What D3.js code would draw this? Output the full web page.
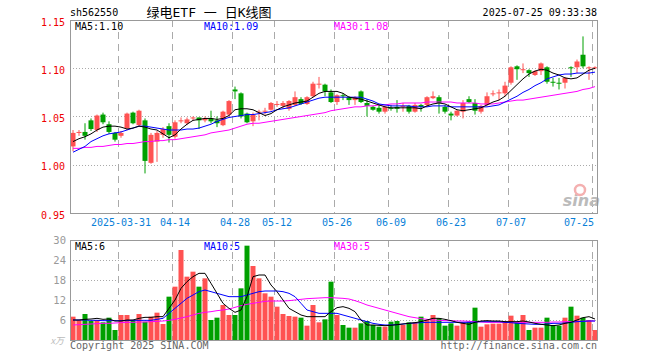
<!DOCTYPE html>
<html><head><meta charset="utf-8">
<script src="https://cdn.jsdelivr.net/npm/d3@7/dist/d3.min.js"></script>
<style>
body{margin:0;background:#fff}
svg{display:block}
text{font-family:"DejaVu Sans Mono",monospace;font-size:10px}
</style>
</head><body>
<svg width="660" height="360"></svg>
<script>
// trading days shown
const dates = ["03-19","03-20","03-21","03-24","03-25","03-26","03-27","03-28","03-31","04-01",
  "04-02","04-03","04-07","04-08","04-09","04-10","04-11","04-14","04-15","04-16",
  "04-17","04-18","04-21","04-22","04-23","04-24","04-25","04-28","04-29","04-30",
  "05-06","05-07","05-08","05-09","05-12","05-13","05-14","05-15","05-16","05-19",
  "05-20","05-21","05-22","05-23","05-26","05-27","05-28","05-29","05-30","06-03",
  "06-04","06-05","06-06","06-09","06-10","06-11","06-12","06-13","06-16","06-17",
  "06-18","06-19","06-20","06-23","06-24","06-25","06-26","06-27","06-30","07-01",
  "07-02","07-03","07-04","07-07","07-08","07-09","07-10","07-11","07-14","07-15",
  "07-16","07-17","07-18","07-21","07-22","07-23","07-24","07-25"];

const open = [1.019,1.033,1.034,1.046,1.036,1.052,1.042,1.033,1.030,1.038,
  1.054,1.041,1.046,1.002,1.024,1.031,1.040,1.029,1.045,1.043,
  1.048,1.049,1.046,1.048,1.046,1.041,1.052,1.078,1.074,1.053,
  1.045,1.054,1.055,1.057,1.063,1.061,1.058,1.062,1.068,1.063,
  1.071,1.084,1.083,1.075,1.065,1.072,1.070,1.067,1.076,1.064,
  1.060,1.059,1.055,1.059,1.060,1.060,1.061,1.055,1.062,1.062,
  1.069,1.070,1.060,1.053,1.051,1.055,1.068,1.064,1.055,1.062,
  1.073,1.074,1.074,1.085,1.102,1.098,1.098,1.093,1.097,1.101,
  1.086,1.085,1.085,1.101,1.101,1.114,1.100,1.100];
const close = [1.033,1.034,1.030,1.037,1.051,1.044,1.034,1.026,1.033,1.053,
  1.043,1.056,1.004,1.031,1.033,1.037,1.031,1.044,1.046,1.047,
  1.049,1.046,1.048,1.045,1.043,1.055,1.066,1.076,1.050,1.044,
  1.052,1.055,1.056,1.064,1.063,1.064,1.066,1.070,1.063,1.070,
  1.084,1.084,1.076,1.065,1.072,1.071,1.067,1.070,1.065,1.061,
  1.057,1.055,1.060,1.058,1.058,1.061,1.055,1.062,1.060,1.070,
  1.071,1.064,1.055,1.051,1.056,1.064,1.065,1.056,1.061,1.071,
  1.074,1.075,1.082,1.101,1.099,1.099,1.095,1.097,1.105,1.086,
  1.085,1.084,1.090,1.100,1.107,1.102,1.101,1.101];
const high = [1.036,1.036,1.043,1.048,1.052,1.054,1.045,1.034,1.035,1.054,
  1.055,1.057,1.048,1.033,1.035,1.039,1.043,1.046,1.049,1.049,
  1.050,1.049,1.050,1.056,1.050,1.056,1.067,1.081,1.075,1.054,
  1.054,1.057,1.059,1.065,1.066,1.066,1.067,1.076,1.070,1.071,
  1.086,1.091,1.084,1.078,1.073,1.074,1.071,1.071,1.077,1.068,
  1.061,1.062,1.061,1.062,1.067,1.064,1.062,1.064,1.063,1.071,
  1.076,1.072,1.062,1.055,1.057,1.067,1.071,1.068,1.062,1.075,
  1.077,1.078,1.086,1.102,1.103,1.105,1.099,1.098,1.106,1.102,
  1.090,1.090,1.091,1.102,1.109,1.133,1.102,1.102];
const low = [1.014,1.030,1.026,1.035,1.034,1.042,1.032,1.024,1.028,1.036,
  1.042,1.040,0.991,1.001,1.003,1.028,1.023,1.027,1.043,1.041,
  1.046,1.037,1.044,1.043,1.039,1.040,1.050,1.068,1.048,1.043,
  1.040,1.046,1.052,1.056,1.060,1.058,1.056,1.061,1.062,1.062,
  1.070,1.079,1.071,1.064,1.062,1.067,1.062,1.062,1.064,1.050,
  1.056,1.053,1.053,1.056,1.054,1.055,1.053,1.054,1.055,1.060,
  1.068,1.053,1.053,1.046,1.050,1.048,1.064,1.052,1.053,1.061,
  1.071,1.067,1.071,1.083,1.088,1.095,1.091,1.092,1.093,1.084,
  1.081,1.078,1.079,1.091,1.095,1.100,1.088,1.099];

const ma5 = [1.024,1.027,1.029,1.032,1.036,1.039,1.040,1.040,1.039,1.037,
  1.038,1.040,1.039,1.037,1.036,1.032,1.028,1.031,1.037,1.042,
  1.046,1.047,1.048,1.048,1.047,1.048,1.051,1.057,1.058,1.058,
  1.057,1.054,1.051,1.053,1.057,1.060,1.062,1.064,1.065,1.066,
  1.070,1.074,1.076,1.076,1.076,1.074,1.070,1.069,1.068,1.066,
  1.064,1.062,1.060,1.059,1.059,1.059,1.059,1.059,1.058,1.061,
  1.063,1.064,1.063,1.060,1.057,1.056,1.057,1.058,1.059,1.062,
  1.065,1.067,1.071,1.077,1.083,1.089,1.094,1.097,1.099,1.098,
  1.095,1.093,1.090,1.089,1.090,1.094,1.098,1.100];
const ma10 = [1.013,1.016,1.019,1.024,1.027,1.030,1.032,1.033,1.034,1.036,
  1.038,1.040,1.040,1.039,1.038,1.037,1.036,1.036,1.036,1.037,
  1.037,1.038,1.040,1.042,1.045,1.047,1.049,1.050,1.051,1.052,
  1.052,1.053,1.054,1.055,1.057,1.058,1.059,1.061,1.063,1.065,
  1.067,1.069,1.070,1.070,1.070,1.070,1.070,1.070,1.070,1.068,
  1.066,1.063,1.062,1.061,1.061,1.061,1.061,1.060,1.060,1.060,
  1.061,1.061,1.061,1.060,1.060,1.060,1.060,1.060,1.060,1.060,
  1.061,1.062,1.065,1.068,1.071,1.075,1.078,1.082,1.085,1.089,
  1.091,1.093,1.094,1.094,1.095,1.095,1.095,1.096];
const ma30 = [1.017,1.017,1.018,1.018,1.019,1.019,1.020,1.021,1.021,1.022,
  1.022,1.023,1.024,1.024,1.025,1.025,1.026,1.026,1.027,1.028,
  1.029,1.030,1.031,1.033,1.034,1.035,1.036,1.038,1.040,1.042,
  1.043,1.043,1.044,1.045,1.046,1.047,1.048,1.049,1.050,1.051,
  1.052,1.053,1.054,1.056,1.057,1.058,1.059,1.060,1.060,1.061,
  1.061,1.062,1.062,1.063,1.063,1.064,1.064,1.064,1.064,1.065,
  1.065,1.065,1.065,1.065,1.064,1.064,1.064,1.064,1.063,1.063,
  1.063,1.064,1.065,1.066,1.067,1.067,1.068,1.069,1.070,1.071,
  1.072,1.073,1.074,1.075,1.076,1.078,1.079,1.081];

// volume, unit: 10k shares
const volume = [7.0,6.0,7.8,5.7,6.0,5.3,6.7,3.0,7.5,7.5,
  6.0,7.8,5.5,7.0,8.2,4.8,13,16,27,19,
  20.5,16,18.5,6,6.7,10.5,7.5,7.5,15.5,28.3,
  22.2,18.5,14,13,10,7.8,7.2,7,6.7,4.3,
  10.5,5.3,6.2,17.5,7.5,4.5,3.7,3.7,5,5.7,
  4.5,4,4,5.5,5.7,4.5,5.3,5.3,7,6,
  7.5,6.5,4.3,5,4.3,5.3,5.5,9.7,4,4.7,
  4.9,4.9,5.7,7.3,5.3,7.5,3,3.7,3.7,6.7,
  4.5,4.3,6.7,10,7.3,6.7,6,3];
const vma5 = [6,6,6.2,6.3,6.5,6.2,6.3,5.7,5.7,6,
  6,6.5,6.8,6.8,7,7,9.5,12,15.5,17.5,
  19,20,20,17,14,11,9.5,8.3,9,13,
  19,19.5,19.5,16.5,14.5,12,9.5,8.5,7.5,7,
  7,7,7,8.5,9.7,10,9.5,8.5,6,4.5,
  4.5,4.4,4.3,4.4,4.6,4.8,5,5.2,5.5,6,
  6.5,6.5,6.2,5.8,5.3,5,4.7,5.3,5.7,5.8,
  5.7,5.7,5.5,5.5,5.5,5.7,5.4,5,4.7,4.5,
  4.3,4.5,5,5.3,6,6.7,7,6.3];
const vma10 = [6,6,6,5.9,5.9,5.8,5.8,5.8,5.8,5.8,
  5.9,5.9,5.9,5.9,6.2,6.5,8,9.5,11,12.5,
  13.5,14.5,15,14.5,14,13.5,13,13,13,13.5,
  14,14.5,14.7,14.7,14.7,14.5,14,13,11,9,
  8.5,8,8,8,8,7.5,7,6.5,6,5.5,
  5,4.7,4.5,4.5,4.6,4.8,5,5.1,5.2,5.3,
  5.3,5.3,5.3,5.3,5.3,5.3,5.3,5.4,5.5,5.5,
  5.5,5.5,5.3,5.2,5,4.9,4.8,4.7,4.7,4.8,
  5,5,5.1,5.3,5.5,5.6,5.7,5.7];
const vma30 = [4.5,4.6,4.7,4.8,4.9,5,5,5.1,5.2,5.3,
  5.3,5.4,5.4,5.5,5.6,5.7,5.9,6.2,6.6,7,
  7.5,8,8.3,8.5,8.8,9,9.3,9.8,10.3,10.7,
  11,11.3,11.6,11.7,11.7,11.7,11.8,12,12.2,12.4,
  12.5,12.6,12.7,12.7,12.6,12.5,12.3,11.8,11.2,10.5,
  10,9.5,9,8.5,8,7.5,7,6.7,6.4,6.2,
  6,5.9,5.8,5.8,5.7,5.7,5.6,5.5,5.4,5.3,
  5.3,5.3,5.3,5.3,5.3,5.3,5.3,5.3,5.3,5.3,
  5.4,5.4,5.5,5.5,5.6,5.6,5.7,5.7];

const tickDates = ["03-31","04-14","04-28","05-12","05-26","06-09","06-23","07-07","07-25"];
const tickLabels = ["2025-03-31","04-14","04-28","05-12","05-26","06-09","06-23","07-07","07-25"];
const priceTicks = [1.15, 1.10, 1.05, 1.00, 0.95];
const volTicks = [30, 24, 18, 12, 6];

const RED = "#ff5252", GREEN = "#00a000", GRID = "#aaa";

const svg = d3.select("svg");
const left = 70, right = 598;
const pTop = 20, pBot = 213, vTop = 240, vBot = 340;

const x = d3.scaleBand().domain(dates).range([left, right]).padding(0);
const y = d3.scaleLinear().domain([0.95, 1.15]).range([pBot, pTop]);
const yv = d3.scaleLinear().domain([0, 30]).range([vBot, vTop]);
const cx = d => x(d) + 3;

const data = dates.map((d, i) => ({
  date: d, o: open[i], h: high[i], l: low[i], c: close[i], v: volume[i],
  up: close[i] >= open[i]
}));

// header
svg.append("text").attr("x", 70).attr("y", 16).text("sh562550");
svg.append("text").attr("x", 209).attr("y", 17).attr("text-anchor", "middle")
  .style("font-family", "'DejaVu Sans Mono','Noto Sans CJK SC'").style("font-size", "13px")
  .text("绿电ETF 一 日K线图");
svg.append("text").attr("x", 597).attr("y", 16).attr("text-anchor", "end")
  .text("2025-07-25 09:33:38");

// panels
function panel(top, bot) {
  const g = svg.append("g");
  // dashed date lines
  g.selectAll("line.v").data(tickDates).enter().append("line")
    .attr("x1", d => Math.round(x(d)) + 0.5).attr("x2", d => Math.round(x(d)) + 0.5)
    .attr("y1", top).attr("y2", bot)
    .attr("stroke", GRID).attr("stroke-dasharray", "7,5");
  return g;
}

const pg = panel(pTop, pBot);
pg.selectAll("line.h").data(priceTicks.slice(1, -1)).enter().append("line")
  .attr("x1", left).attr("x2", right)
  .attr("y1", d => Math.round(y(d)) + 0.5).attr("y2", d => Math.round(y(d)) + 0.5)
  .attr("stroke", GRID).attr("stroke-dasharray", "1,2");

const vg = panel(vTop, vBot);
vg.selectAll("line.h").data(volTicks.slice(1)).enter().append("line")
  .attr("x1", left).attr("x2", right)
  .attr("y1", d => Math.round(yv(d)) + 0.5).attr("y2", d => Math.round(yv(d)) + 0.5)
  .attr("stroke", GRID).attr("stroke-dasharray", "1,2");

// price axis labels
const yAxis = d3.axisLeft(y).tickValues(priceTicks).tickSize(0).tickPadding(5).tickFormat(d3.format(".2f"));
svg.append("g").attr("transform", `translate(${left},2)`).call(yAxis)
  .call(g => g.select(".domain").remove())
  .selectAll("text").attr("fill", "#e00").style("font-size", "10px").style("font-family", "'DejaVu Sans Mono',monospace");

const vAxis = d3.axisLeft(yv).tickValues(volTicks).tickSize(0).tickPadding(4);
svg.append("g").attr("transform", `translate(${left},0)`).call(vAxis)
  .call(g => g.select(".domain").remove())
  .selectAll("text").attr("fill", "#999").style("font-size", "10.5px").style("font-family", "'DejaVu Sans Mono',monospace");
svg.append("text").attr("x", 64).attr("y", 344).attr("text-anchor", "end").attr("fill", "#bbb")
  .style("font-family", "'Noto Sans CJK SC'").style("font-size", "9px").style("font-style", "italic").text("x万");

// date axis
const xAxis = d3.axisBottom(x).tickValues(tickDates).tickSize(0).tickPadding(6)
  .tickFormat((d, i) => tickLabels[i]);
svg.append("g").attr("transform", `translate(0,${pBot})`).call(xAxis)
  .call(g => g.select(".domain").remove())
  .selectAll("text").attr("fill", "#0a7fd8").style("font-size", "10px").style("font-family", "'DejaVu Sans Mono',monospace")
  .attr("dx", (d, i) => i === tickDates.length - 1 ? -16 : 0);

// sina watermark
svg.append("text").attr("x", 600).attr("y", 206).attr("text-anchor", "end")
  .attr("fill", "#bbb").style("font-family", "'DejaVu Sans',sans-serif").style("font-size", "16px")
  .style("font-weight", "bold").style("font-style", "italic").text("sina");
svg.append("circle").attr("cx", 580).attr("cy", 190).attr("r", 5)
  .attr("fill", "none").attr("stroke", "#f4b0b0").attr("stroke-width", 2.5);

// candles
const candles = svg.append("g");
candles.selectAll("line").data(data).enter().append("line")
  .attr("x1", d => cx(d.date)).attr("x2", d => cx(d.date))
  .attr("y1", d => y(d.h)).attr("y2", d => y(d.l))
  .attr("stroke", d => d.up ? RED : GREEN);
candles.selectAll("rect").data(data).enter().append("rect")
  .attr("x", d => x(d.date) + 0.5).attr("width", 5)
  .attr("y", d => y(Math.max(d.o, d.c)))
  .attr("height", d => Math.max(1, Math.abs(y(d.o) - y(d.c))))
  .attr("fill", d => d.up ? RED : GREEN);

// volume bars
svg.append("g").selectAll("rect").data(data).enter().append("rect")
  .attr("x", d => x(d.date) + 0.5).attr("width", 5)
  .attr("y", d => yv(d.v)).attr("height", d => vBot - yv(d.v))
  .attr("fill", d => d.up ? RED : GREEN);

// moving averages
function maLine(vals, scale, color) {
  const line = d3.line().x((v, i) => cx(dates[i])).y(v => scale(v));
  svg.append("path").attr("d", line(vals)).attr("fill", "none").attr("stroke", color).attr("stroke-width", 1);
}
maLine(ma30, y, "#ff00ff");
maLine(ma10, y, "#0000ff");
maLine(ma5, y, "#000");
maLine(vma30, yv, "#ff00ff");
maLine(vma10, yv, "#0000ff");
maLine(vma5, yv, "#000");

// frames
[[pTop, pBot], [vTop, vBot]].forEach(([t, b]) => {
  svg.append("rect").attr("x", left + 0.5).attr("y", t + 0.5)
    .attr("width", right - left - 1).attr("height", b - t)
    .attr("fill", "none").attr("stroke", "#999");
});

// legends
const legend = (yy, items) => items.forEach(([tx, col, xx]) =>
  svg.append("text").attr("x", xx).attr("y", yy).attr("fill", col).text(tx));
legend(30, [["MA5:1.10", "#000", 75], ["MA10:1.09", "#0000ff", 204], ["MA30:1.08", "#ff00ff", 334]]);
legend(250, [["MA5:6", "#000", 75], ["MA10:5", "#0000ff", 204], ["MA30:5", "#ff00ff", 334]]);

// footer
svg.append("text").attr("x", 70).attr("y", 349).attr("fill", "#666").text("Copyright 2025 SINA.COM");
svg.append("text").attr("x", 597).attr("y", 349).attr("text-anchor", "end").attr("fill", "#666")
  .text("http://finance.sina.com.cn");
</script>
</body></html>
